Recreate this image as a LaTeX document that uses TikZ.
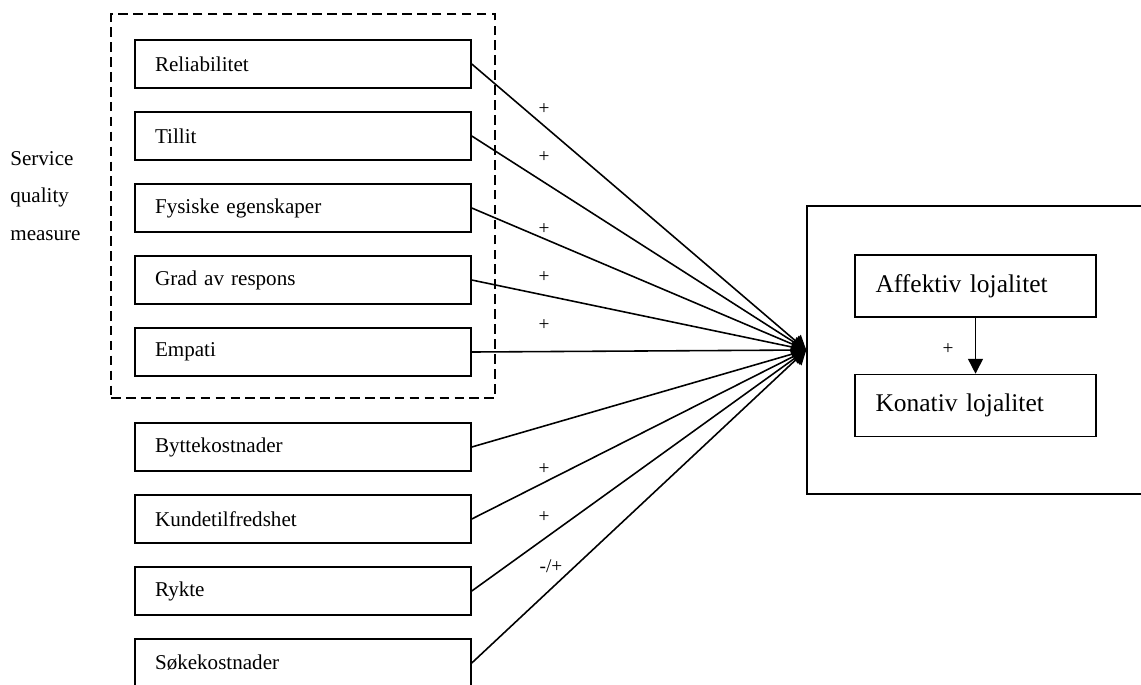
\documentclass[tikz,border=0pt]{standalone}
\usepackage{fontspec}
\setmainfont{Liberation Serif}
\usetikzlibrary{arrows.meta}
\definecolor{LineClr}{rgb}{0,0,0}

\begin{document}
\begin{tikzpicture}[x=0.02cm,y=-0.02cm,
  BoxStl/.style={draw=LineClr,line width=0.9pt,text width=5.92cm,inner xsep=0.4cm,
    minimum height=0.96cm,align=left,font=\fontsize{12}{14}\selectfont},
  LoyStl/.style={draw=LineClr,line width=0.9pt,text width=4.0cm,inner xsep=0.41cm,
    minimum height=1.24cm,align=left,font=\fontsize{14.5}{16}\selectfont},
  ArrStl/.style={line width=0.9pt,-{Triangle[length=8pt,width=9pt]}},
  SignStl/.style={font=\fontsize{11}{12}\selectfont,inner sep=0pt}]
\useasboundingbox (0,0) rectangle (1141,684);

\node[draw=LineClr,line width=0.9pt,dash pattern=on 5.5pt off 3pt,
  minimum width=7.68cm,minimum height=7.68cm] (Q) at (303,206) {};

\node[BoxStl] (R1) at (303,64) {Reliabilitet};
\node[BoxStl] (R2) at (303,136) {Tillit};
\node[BoxStl] (R3) at (303,208) {Fysiske egenskaper};
\node[BoxStl] (R4) at (303,280) {Grad av respons};
\node[BoxStl] (R5) at (303,352) {Empati};
\node[BoxStl] (R6) at (303,447) {Byttekostnader};
\node[BoxStl] (R7) at (303,519) {Kundetilfredshet};
\node[BoxStl] (R8) at (303,591) {Rykte};
\node[BoxStl] (R9) at (303,663) {Søkekostnader};

\node[align=left,anchor=west,inner sep=0pt,font=\fontsize{12}{21.5}\selectfont]
  (S) at (10,196) {Service\\quality\\measure};

\node[draw=LineClr,line width=0.9pt,minimum width=6.7cm,minimum height=5.76cm] (L) at (974.5,350) {};
\node[LoyStl] (A) at (975.5,286) {Affektiv lojalitet};
\node[LoyStl] (K) at (975.5,405.5) {Konativ lojalitet};

\draw[ArrStl] (R1.east) -- (L.west);
\draw[ArrStl] (R2.east) -- (L.west);
\draw[ArrStl] (R3.east) -- (L.west);
\draw[ArrStl] (R4.east) -- (L.west);
\draw[ArrStl] (R5.east) -- (L.west);
\draw[ArrStl] (R6.east) -- (L.west);
\draw[ArrStl] (R7.east) -- (L.west);
\draw[ArrStl] (R8.east) -- (L.west);
\draw[ArrStl] (R9.east) -- (L.west);
\draw[line width=0.9pt,-{Triangle[length=8.5pt,width=8.5pt]}] (A) -- (K);

\node[SignStl] (P1) at (544,109) {+};
\node[SignStl] (P2) at (544,157) {+};
\node[SignStl] (P3) at (544,229) {+};
\node[SignStl] (P4) at (544,277) {+};
\node[SignStl] (P5) at (544,325) {+};
\node[SignStl] (P6) at (544,469) {+};
\node[SignStl] (P7) at (544,517) {+};
\node[SignStl] (P8) at (551,566) {-/+};
\node[SignStl] (P9) at (948,349) {+};

\end{tikzpicture}
\end{document}
